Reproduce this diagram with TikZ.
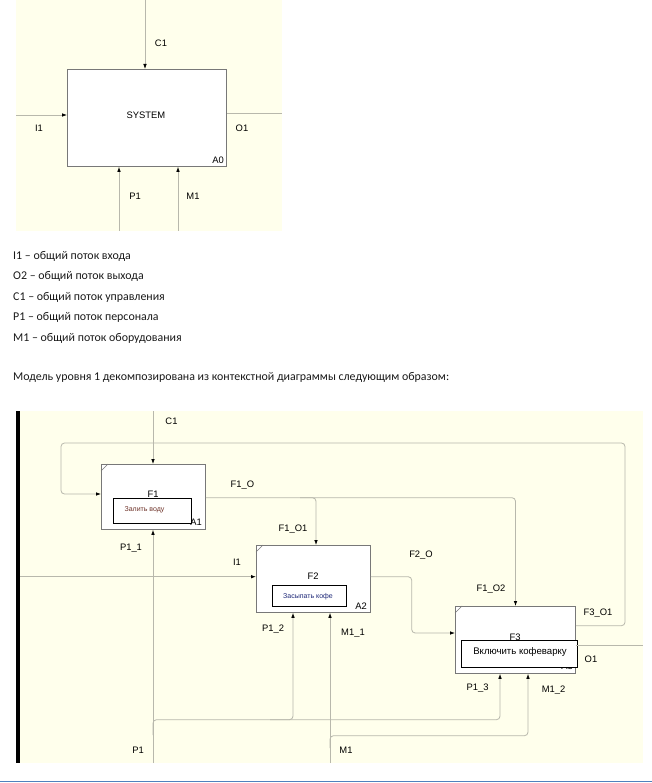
\documentclass[tikz,border=0pt]{standalone}
\usepackage{fontspec}
\setmainfont{Liberation Sans}
\newfontfamily\calib{Carlito}
\usetikzlibrary{arrows.meta}
\definecolor{cream}{RGB}{255,255,236}
\definecolor{ln}{RGB}{184,184,172}
\definecolor{bx}{RGB}{120,120,120}
\definecolor{bl}{RGB}{79,129,189}
\definecolor{redtx}{RGB}{110,50,40}
\definecolor{bluetx}{RGB}{30,40,120}
\tikzset{
  box/.style={draw=bx, fill=white, line width=0.8pt, inner sep=0pt, anchor=north west},
  flow/.style={draw=ln, line width=0.8pt, rounded corners=3.5pt},
  arr/.style={flow, -{Latex[length=5pt,width=3.6pt,color=black]}},
  lab/.style={font=\fontsize{9.4}{11}\selectfont, inner sep=0pt},
  inbox/.style={draw=black, fill=white, line width=0.9pt, inner sep=0pt, anchor=north west},
  txt/.style={font=\calib\fontsize{11.9}{13}\selectfont, inner sep=0pt, anchor=west, text=black!90},
  corner/.style={draw=bx, line width=0.6pt}
}
\begin{document}
\begin{tikzpicture}[x=1pt,y=-1pt]
\useasboundingbox (0,0) rectangle (652,783);
% ---------- top context diagram ----------
\fill[cream] (16,0) rectangle (282,231);
\node[box, minimum width=159pt, minimum height=97pt] (A0) at (67,69) {};
\node[lab] (sys) at (146,115) {SYSTEM};
\node[lab] (a0l) at (218,160) {A0};
\coordinate (c1t) at (145,0);
\coordinate (i1t) at (16,115);
\coordinate (o1t) at (282,113);
\coordinate (p1t) at (119,231);
\coordinate (m1t) at (178,231);
\draw[arr] (c1t) -- (c1t |- A0.north);
\draw[arr] (i1t) -- (i1t -| A0.west);
\draw[flow] (o1t -| A0.east) -- (o1t);
\draw[arr] (p1t) -- (p1t |- A0.south);
\draw[arr] (m1t) -- (m1t |- A0.south);
\node[lab] (lc1t) at (161,43) {C1};
\node[lab] (li1t) at (39,128) {I1};
\node[lab] (lo1t) at (242,128) {O1};
\node[lab] (lp1t) at (135,196) {P1};
\node[lab] (lm1t) at (193,196) {M1};
% ---------- text ----------
\node[txt] (t1) at (13,256) {I1 – общий поток входа};
\node[txt] (t2) at (13,276.5) {O2 – общий поток выхода};
\node[txt] (t3) at (13,297) {C1 – общий поток управления};
\node[txt] (t4) at (13,317.5) {P1 – общий поток персонала};
\node[txt] (t5) at (13,338) {M1 – общий поток оборудования};
\node[txt] (t6) at (13,377.5) {Модель уровня 1 декомпозирована из контекстной диаграммы следующим образом:};
% ---------- level-1 diagram ----------
\fill[cream] (20,411) rectangle (643,763);
\fill[black] (16,411) rectangle (20,763);
\draw[bl, line width=1.5pt] (0,781.5) -- (652,781.5);
\node[box, minimum width=104pt, minimum height=65pt] (F1) at (101,464) {};
\node[box, minimum width=114pt, minimum height=67pt] (F2) at (256,545) {};
\node[box, minimum width=120pt, minimum height=67pt] (F3) at (455,606) {};
\foreach \b in {F1,F2,F3}
  \draw[corner] ([yshift=-7pt]\b.north west) -- ([xshift=7pt]\b.north west);
\node[lab] (lf1) at (153,494) {F1};
\node[lab] (la1) at (196,522) {A1};
\node[inbox, minimum width=78pt, minimum height=25pt] (in1) at (113,498) {};
\node[inner sep=0pt, text=redtx, font=\fontsize{7}{8}\selectfont] (tx1) at (144.5,510) {Залить воду};
\node[lab] (lf2) at (313,576.5) {F2};
\node[lab] (la2) at (361,606) {A2};
\node[inbox, minimum width=74pt, minimum height=21pt] (in2) at (272,585) {};
\node[inner sep=0pt, text=bluetx, font=\fontsize{7}{8}\selectfont] (tx2) at (308,597) {Засыпать кофе};
\node[lab] (lf3) at (515,637) {F3};
\node[lab] (la3) at (567,666) {A3};
\node[inbox, minimum width=116pt, minimum height=27pt] (in3) at (461,640) {};
\node[inner sep=0pt, font=\fontsize{9.6}{11}\selectfont] (tx3) at (520,652.5) {Включить кофеварку};
% connectors
\coordinate (c1) at (153,411);
\draw[arr] (c1) -- (c1 |- F1.north);
\coordinate (fbR) at (625,625.7);
\coordinate (fbT) at (61,443);
\coordinate (fbin) at (61,494);
\draw[arr] (F3.east |- fbR) -- (fbR) -- (fbR |- fbT) -- (fbT) -- (fbin) -- (fbin -| F1.west);
\coordinate (f1o) at (515.5,497.7);
\draw[arr] (F1.east |- f1o) -- (f1o) -- (f1o |- F3.north);
\coordinate (f1b) at (316,497.7);
\draw[arr] (300,497.7) -- (f1b) -- (f1b |- F2.north);
\coordinate (i1) at (20,576.7);
\draw[arr] (i1) -- (i1 -| F2.west);
\coordinate (f2o) at (411.7,576.7);
\coordinate (f2d) at (411.7,633);
\draw[arr] (F2.east |- f2o) -- (f2o) -- (f2d) -- (f2d -| F3.west);
\coordinate (o1) at (643,645.7);
\draw[flow] (F3.east |- o1) -- (o1);
\coordinate (p1) at (153,763);
\draw[arr] (p1) -- (p1 |- F1.south);
\coordinate (p1s) at (153,735);
\coordinate (p1j) at (153,719.7);
\coordinate (p1k) at (293,719.7);
\coordinate (p1m) at (500,719.7);
\draw[arr] (p1s) -- (p1j) -- (p1k) -- (p1k |- F2.south);
\draw[arr] (270,719.7) -- (p1m) -- (p1m |- F3.south);
\coordinate (m1) at (330,763);
\draw[arr] (m1) -- (m1 |- F2.south);
\coordinate (m1s) at (330,748);
\coordinate (m1j) at (330,735.7);
\coordinate (m1k) at (528,735.7);
\draw[arr] (m1s) -- (m1j) -- (m1k) -- (m1k |- F3.south);
% labels
\node[lab] (lc1) at (171.5,421.5) {C1};
\node[lab] (lf1o) at (242.5,485) {F1\_O};
\node[lab] (lf1o1) at (293,529) {F1\_O1};
\node[lab] (lp11) at (131,548) {P1\_1};
\node[lab] (li1) at (237,562.5) {I1};
\node[lab] (lf2o) at (421,555) {F2\_O};
\node[lab] (lf1o2) at (491,589.5) {F1\_O2};
\node[lab] (lf3o1) at (598,613) {F3\_O1};
\node[lab] (lo1) at (591,659) {O1};
\node[lab] (lp12) at (273,629.5) {P1\_2};
\node[lab] (lm11) at (353,633) {M1\_1};
\node[lab] (lp13) at (477.5,688) {P1\_3};
\node[lab] (lm12) at (553.5,690) {M1\_2};
\node[lab] (lp1) at (138,750) {P1};
\node[lab] (lm1) at (346,750) {M1};
\end{tikzpicture}
\end{document}
